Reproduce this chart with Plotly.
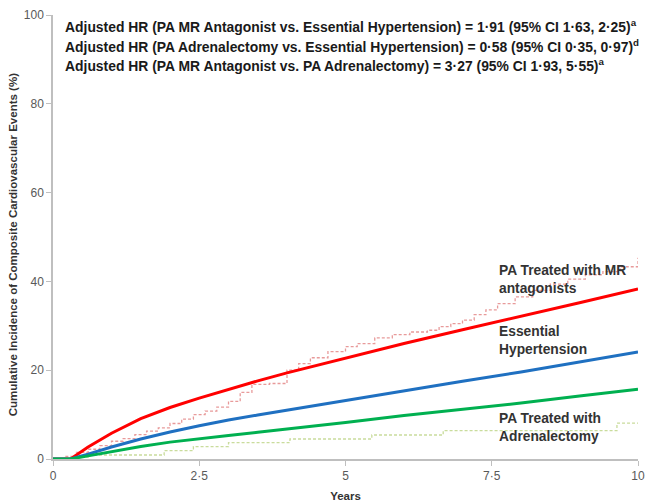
import plotly.graph_objects as go

# Smoothed adjusted curves (years, %)
years = [0, 0.3, 0.6, 1.0, 1.5, 2.0, 2.5, 3.0, 3.5, 4, 5, 6, 7, 8, 9, 10]
mr_antagonist = [0, 0, 2.7, 5.8, 9.1, 11.6, 13.7, 15.7, 17.6, 19.4, 22.7, 26.0, 29.1, 32.1, 35.2, 38.3]
essential_htn = [0, 0, 1.1, 2.7, 4.5, 6.1, 7.5, 8.8, 9.9, 11.0, 13.1, 15.3, 17.5, 19.6, 21.8, 24.1]
adrenalectomy = [0, 0, 0.7, 1.7, 2.8, 3.8, 4.6, 5.3, 6.0, 6.7, 8.2, 9.8, 11.2, 12.6, 14.2, 15.7]

# Unadjusted Kaplan-Meier step curves (dashed)
mr_km_years = [0, 0.2, 0.4, 0.6, 0.8, 1.0, 1.2, 1.4, 1.6, 1.8, 2.0, 2.2, 2.4, 2.6, 2.8, 3.0,
               3.2, 3.4, 3.7, 4.0, 4.2, 4.4, 4.7, 5.0, 5.2, 5.5, 5.8, 6.1, 6.4, 6.6, 6.8,
               7.0, 7.2, 7.4, 7.6, 7.9, 8.2, 8.5, 8.8, 9.1, 9.4, 9.7, 10]
mr_km_values = [0, 0.6, 1.5, 2.2, 3.0, 4.0, 4.6, 5.5, 6.3, 7.0, 8.0, 9.0, 10.0, 10.8, 11.7, 13.0,
                15.0, 16.8, 17.0, 20.0, 21.5, 22.8, 24.2, 25.3, 26.0, 27.3, 28.0, 28.6, 29.0, 29.8, 30.5,
                31.3, 32.5, 33.6, 35.0, 36.5, 38.0, 39.4, 40.5, 41.5, 42.2, 43.3, 45.3]
adr_km_years = [0, 0.3, 0.6, 1.9, 2.4, 3.0, 4.05, 5.45, 6.67, 9.64, 10]
adr_km_values = [0, 0.4, 0.9, 1.9, 2.8, 3.7, 4.5, 5.4, 6.4, 8.1, 8.1]

x_tick_vals = [0, 2.5, 5, 7.5, 10]
x_tick_text = ["0", "2·5", "5", "7·5", "10"]
y_tick_vals = [0, 20, 40, 60, 80, 100]

hr_lines = [
    "Adjusted HR (PA MR Antagonist vs. Essential Hypertension) = 1·91 (95% CI 1·63, 2·25)<sup>a</sup>",
    "Adjusted HR (PA Adrenalectomy vs. Essential Hypertension) = 0·58 (95% CI 0·35, 0·97)<sup>d</sup>",
    "Adjusted HR (PA MR Antagonist vs. PA Adrenalectomy) = 3·27 (95% CI 1·93, 5·55)<sup>a</sup>",
]

labels = [
    ("PA Treated with MR<br>antagonists", 7.59, 44.6),
    ("Essential<br>Hypertension", 7.59, 30.9),
    ("PA Treated with<br>Adrenalectomy", 7.59, 11.2),
]

FONT = "Liberation Sans, Arial, sans-serif"

fig = go.Figure()
fig.add_trace(go.Scatter(x=mr_km_years, y=mr_km_values, mode="lines", line_shape="hv",
                         line=dict(color="#e89a9a", width=1.3, dash="3px,2px"), showlegend=False))
fig.add_trace(go.Scatter(x=adr_km_years, y=adr_km_values, mode="lines", line_shape="hv",
                         line=dict(color="#c9dc9c", width=1.3, dash="3px,2px"), showlegend=False))
fig.add_trace(go.Scatter(x=years, y=mr_antagonist, mode="lines",
                         line=dict(color="#ff0000", width=3), showlegend=False))
fig.add_trace(go.Scatter(x=years, y=essential_htn, mode="lines",
                         line=dict(color="#1f70c1", width=3), showlegend=False))
fig.add_trace(go.Scatter(x=years, y=adrenalectomy, mode="lines",
                         line=dict(color="#00b050", width=3), showlegend=False))

ann = []
for i, t in enumerate(hr_lines):
    ann.append(dict(text=t, xref="paper", yref="paper", x=0.017, y=1.0 - i * 0.044,
                    xanchor="left", yanchor="top", showarrow=False, align="left",
                    font=dict(family=FONT, size=13.9, color="#1a1a1a", weight="bold")))
for txt, lx, ly in labels:
    ann.append(dict(text=txt, x=lx, y=ly, xref="x", yref="y", xanchor="left", yanchor="top",
                    showarrow=False, align="left",
                    font=dict(family=FONT, size=13.8, color="#333333", weight="bold")))
ann.append(dict(text="<b>Cumulative Incidence of Composite Cardiovascular Events (%)</b>",
                xref="paper", yref="paper", x=-0.068, y=0.482, textangle=-90,
                xanchor="center", yanchor="middle", showarrow=False,
                font=dict(family=FONT, size=11.5, color="#333333")))

fig.update_layout(
    width=646, height=502,
    margin=dict(l=53, r=8, t=15, b=43, autoexpand=False),
    plot_bgcolor="white", paper_bgcolor="white",
    font=dict(family=FONT, color="#595959", size=12),
    annotations=ann,
    xaxis=dict(range=[0, 10], tickvals=x_tick_vals, ticktext=x_tick_text, automargin=False,
               showgrid=False, zeroline=False, showline=True, linecolor="#bfbfbf", linewidth=1.5,
               ticks="outside", ticklen=5, tickcolor="#bfbfbf",
               title=dict(text="<b>Years</b>", standoff=10,
                          font=dict(size=11.5, color="#333333"))),
    yaxis=dict(range=[0, 100], tickvals=y_tick_vals, automargin=False,
               showgrid=False, zeroline=False, showline=True, linecolor="#bfbfbf", linewidth=1.5,
               ticks="outside", ticklen=5, tickcolor="#bfbfbf"),
)

fig.write_html("out.html", config={"displayModeBar": False},
               post_script="document.body.style.margin='0';document.body.style.overflow='hidden';")
